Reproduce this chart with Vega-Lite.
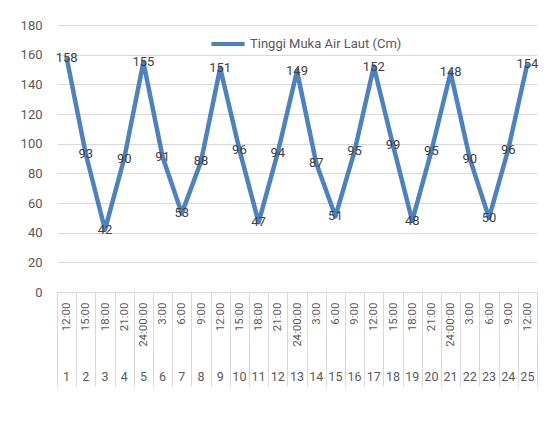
{
  "$schema": "https://vega.github.io/schema/vega-lite/v6.json",
  "width": 480,
  "height": 267,
  "autosize": {"type": "none"},
  "padding": {"left": 57, "top": 25, "right": 15, "bottom": 138},
  "background": "white",
  "config": {"view": {"stroke": null}, "font": "Roboto"},
  "data": {"values": [
    {"n": 1, "time": "12:00", "value": 158},
    {"n": 2, "time": "15:00", "value": 93},
    {"n": 3, "time": "18:00", "value": 42},
    {"n": 4, "time": "21:00", "value": 90},
    {"n": 5, "time": "24:00:00", "value": 155},
    {"n": 6, "time": "3:00", "value": 91},
    {"n": 7, "time": "6:00", "value": 53},
    {"n": 8, "time": "9:00", "value": 88},
    {"n": 9, "time": "12:00", "value": 151},
    {"n": 10, "time": "15:00", "value": 96},
    {"n": 11, "time": "18:00", "value": 47},
    {"n": 12, "time": "21:00", "value": 94},
    {"n": 13, "time": "24:00:00", "value": 149},
    {"n": 14, "time": "3:00", "value": 87},
    {"n": 15, "time": "6:00", "value": 51},
    {"n": 16, "time": "9:00", "value": 95},
    {"n": 17, "time": "12:00", "value": 152},
    {"n": 18, "time": "15:00", "value": 99},
    {"n": 19, "time": "18:00", "value": 48},
    {"n": 20, "time": "21:00", "value": 95},
    {"n": 21, "time": "24:00:00", "value": 148},
    {"n": 22, "time": "3:00", "value": 90},
    {"n": 23, "time": "6:00", "value": 50},
    {"n": 24, "time": "9:00", "value": 96},
    {"n": 25, "time": "12:00", "value": 154}
  ]},
  "transform": [{"calculate": "datum.n + '|' + datum.time", "as": "key"}],
  "encoding": {
    "y": {
      "field": "value",
      "type": "quantitative",
      "scale": {"domain": [0, 180], "nice": false},
      "axis": {
        "values": [0, 20, 40, 60, 80, 100, 120, 140, 160, 180],
        "title": null,
        "domain": false,
        "ticks": false,
        "tickSize": 0,
        "labelPadding": 15,
        "labelColor": "#595959",
        "labelFontSize": 13,
        "gridColor": "#d9d9d9",
        "gridWidth": 1
      }
    }
  },
  "layer": [
    {
      "mark": {"type": "line", "strokeWidth": 4.5, "strokeJoin": "round", "strokeCap": "butt"},
      "encoding": {
        "x": {
          "field": "key",
          "type": "ordinal",
          "sort": {"field": "n", "op": "min"},
          "scale": {"type": "band", "paddingInner": 0, "paddingOuter": 0},
          "bandPosition": 0.5,
          "axis": {
            "title": null,
            "orient": "bottom",
            "labelExpr": "split(datum.value, '|')[1]",
            "labelAngle": -90,
            "labelAlign": "right",
            "labelBaseline": "middle",
            "tickBand": "extent",
            "tickSize": 94,
            "tickColor": "#d9d9d9",
            "domainColor": "#d9d9d9",
            "labelPadding": -84,
            "labelFontSize": 11.5,
            "labelColor": "#595959",
            "labelOverlap": false
          }
        },
        "color": {
          "datum": "Tinggi Muka Air Laut (Cm)",
          "type": "nominal",
          "scale": {"range": ["#4F81BD"]},
          "legend": {
            "orient": "none",
            "legendX": 152,
            "legendY": 0,
            "title": null,
            "symbolType": "stroke",
            "symbolStrokeWidth": 4,
            "symbolSize": 1100,
            "labelFontSize": 13,
            "labelColor": "#595959",
            "labelOffset": 3,
            "padding": 0
          }
        }
      }
    },
    {
      "mark": {"type": "text", "fontSize": 13, "color": "#404040"},
      "encoding": {
        "x": {
          "field": "n",
          "type": "ordinal",
          "scale": {"type": "band", "paddingInner": 0, "paddingOuter": 0},
          "bandPosition": 0.5,
          "axis": {
            "title": null,
            "orient": "bottom",
            "domain": false,
            "ticks": false,
            "tickSize": 0,
            "labelPadding": 78,
            "labelAngle": 0,
            "labelFontSize": 12.5,
            "labelColor": "#595959",
            "labelOverlap": false
          }
        },
        "text": {"field": "value", "type": "quantitative"}
      }
    }
  ],
  "resolve": {"scale": {"x": "independent"}, "axis": {"x": "independent"}}
}
